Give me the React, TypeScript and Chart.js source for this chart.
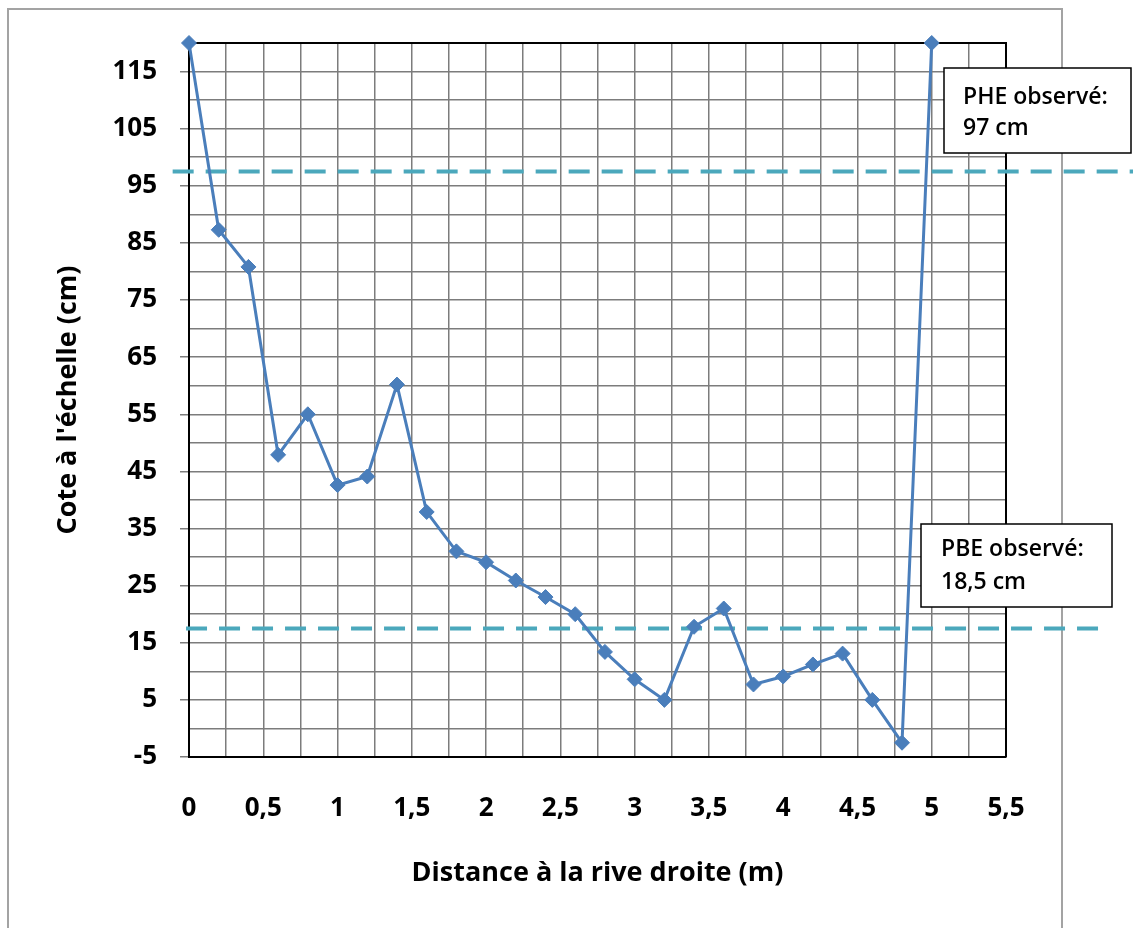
import React, { useEffect, useRef } from 'react';
import { Chart, registerables } from 'chart.js';

Chart.register(...registerables);

// ---- data ----
const distances = [0, 0.2, 0.4, 0.6, 0.8, 1.0, 1.2, 1.4, 1.6, 1.8, 2.0, 2.2, 2.4, 2.6, 2.8, 3.0, 3.2, 3.4, 3.6, 3.8, 4.0, 4.2, 4.4, 4.6, 4.8, 5.0];
const cotes = [120, 87.3, 80.8, 47.9, 55, 42.6, 44.1, 60.2, 37.9, 31, 29.1, 25.9, 23, 20, 13.4, 8.6, 5, 17.8, 21, 7.7, 9.1, 11.2, 13.1, 5, -2.5, 120];

const refLevels = [97.5, 17.5];
const refFrom = [-0.11, -0.02];
const refTo = [6.45, 6.2];
const refNoteLines = [
  ['PHE observé:', '97 cm'],
  ['PBE observé:', '18,5 cm'],
];

const xTitle = 'Distance à la rive droite (m)';
const yTitle = "Cote à l'échelle (cm)";

const FONT = "'Open Sans', 'Liberation Sans', sans-serif";
const BLUE = '#4A7EBB';
const TEAL = '#4BA8BC';
const GRID = '#7c7c7c';

// note boxes layout: [left, top, width, height, textLeft, line1Y, line2Y]
const noteBoxes = [
  [944, 68, 187, 85, 963, 97, 128],
  [921, 524, 191, 83, 941, 549, 582],
];

const decorPlugin = {
  id: 'decor',
  beforeDraw(chart: any) {
    const { ctx } = chart;
    ctx.save();
    ctx.strokeStyle = '#a3a3a3';
    ctx.lineWidth = 2;
    ctx.strokeRect(8, 9, 1054, 1000);
    ctx.restore();
  },
  beforeDatasetsDraw(chart: any) {
    const { ctx, chartArea } = chart;
    ctx.save();
    ctx.strokeStyle = '#000';
    ctx.lineWidth = 2;
    ctx.beginPath();
    ctx.moveTo(chartArea.left, chartArea.top);
    ctx.lineTo(chartArea.right, chartArea.top);
    ctx.lineTo(chartArea.right, chartArea.bottom);
    ctx.stroke();
    ctx.restore();
  },
  afterDraw(chart: any) {
    const { ctx } = chart;
    ctx.save();
    noteBoxes.forEach((b, i) => {
      const [l, t, w, h, tx, y1, y2] = b;
      ctx.fillStyle = '#fff';
      ctx.fillRect(l, t, w, h);
      ctx.strokeStyle = '#000';
      ctx.lineWidth = 1.5;
      ctx.strokeRect(l, t, w, h);
      ctx.fillStyle = '#000';
      ctx.font = `600 23px ${FONT}`;
      ctx.textBaseline = 'middle';
      ctx.textAlign = 'left';
      ctx.fillText(refNoteLines[i][0], tx, y1);
      ctx.fillText(refNoteLines[i][1], tx, y2);
    });
    ctx.restore();
  },
};

export default function App() {
  const ref = useRef<HTMLCanvasElement | null>(null);

  useEffect(() => {
    if (!ref.current) return;
    const datasets: any[] = [
      {
        label: 'profil',
        data: distances.map((x, i) => ({ x, y: cotes[i] })),
        showLine: true,
        borderColor: BLUE,
        borderWidth: 3,
        tension: 0,
        pointStyle: 'rectRot',
        pointRadius: 7.5,
        pointBackgroundColor: BLUE,
        pointBorderColor: BLUE,
        pointBorderWidth: 1,
        clip: false,
      },
    ];
    refLevels.forEach((lvl, i) => {
      datasets.push({
        label: refNoteLines[i][0],
        data: [
          { x: refFrom[i], y: lvl },
          { x: refTo[i], y: lvl },
        ],
        showLine: true,
        borderColor: TEAL,
        borderWidth: 4,
        borderDash: [21, 12],
        pointRadius: 0,
        clip: false,
      });
    });

    const tickFont = { family: FONT, size: 26, weight: 'bold' as const };
    const titleFont = { family: FONT, size: 27, weight: 'bold' as const };

    const chart = new Chart(ref.current, {
      type: 'scatter',
      data: { datasets },
      plugins: [decorPlugin],
      options: {
        responsive: false,
        animation: false,
        devicePixelRatio: 1,
        layout: { padding: { top: 43, right: 127, left: 0, bottom: 0 } },
        plugins: {
          legend: { display: false },
          tooltip: { enabled: false },
        },
        scales: {
          x: {
            type: 'linear',
            min: 0,
            max: 5.5,
            afterFit: (s: any) => {
              s.height = 171;
            },
            ticks: {
              stepSize: 0.25,
              autoSkip: false,
              maxRotation: 0,
              padding: 36,
              color: '#000',
              font: tickFont,
              callback: (v: any) => {
                const n = Number(v);
                return Math.abs(n * 2 - Math.round(n * 2)) < 1e-6 ? String(Math.round(n * 2) / 2).replace('.', ',') : '';
              },
            },
            grid: { color: GRID, lineWidth: 1.5, drawTicks: false },
            border: { color: '#000', width: 2 },
            title: {
              display: true,
              text: xTitle,
              color: '#000',
              font: titleFont,
              padding: { top: 0, bottom: 38 },
            },
          },
          y: {
            type: 'linear',
            min: -5,
            max: 120,
            afterFit: (s: any) => {
              s.width = 189;
            },
            ticks: {
              stepSize: 5,
              autoSkip: false,
              padding: 23,
              color: '#000',
              font: tickFont,
              callback: (v: any) => {
                const n = Math.round(Number(v));
                return (n + 5) % 10 === 0 ? String(n) : '';
              },
            },
            grid: {
              color: GRID,
              lineWidth: 1.5,
              tickLength: 9,
              tickColor: (c: any) => {
                const n = Math.round(Number(c.tick?.value));
                return (n + 5) % 10 === 0 ? GRID : 'rgba(0,0,0,0)';
              },
            },
            border: { color: '#000', width: 2 },
            title: {
              display: true,
              text: yTitle,
              color: '#000',
              font: titleFont,
              padding: { top: 52, bottom: 0 },
            },
          },
        },
      },
    });
    return () => chart.destroy();
  }, []);

  return (
    <div style={{ position: 'absolute', left: 0, top: 0, width: 1133, height: 928, background: '#fff' }}>
      <canvas ref={ref} width={1133} height={928} style={{ display: 'block' }} />
    </div>
  );
}
